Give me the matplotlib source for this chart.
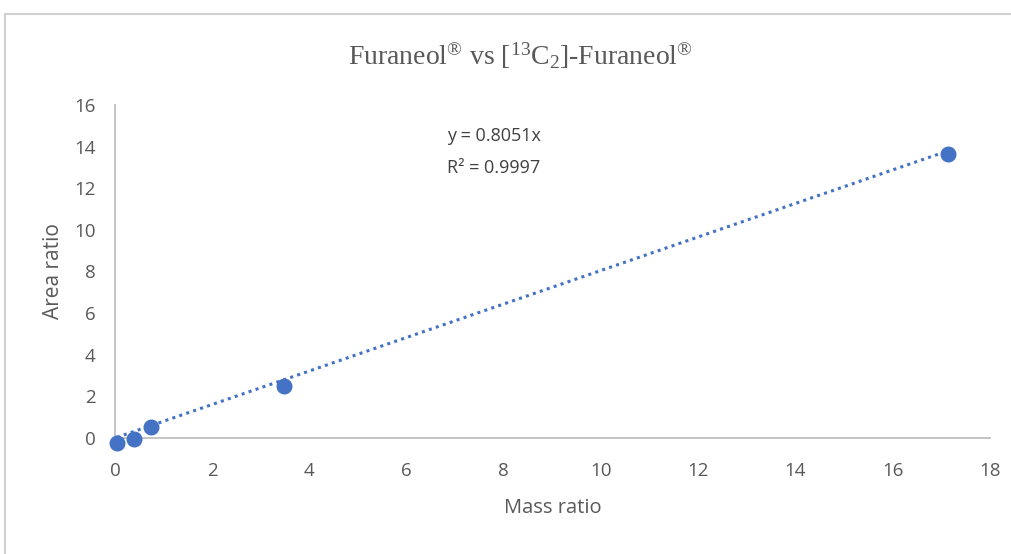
import matplotlib
matplotlib.use("Agg")
import matplotlib.pyplot as plt
from matplotlib.patches import Rectangle
import numpy as np

# Calibration data: mass ratio vs area ratio
mass_ratio = [0.04, 0.39, 0.74, 3.47, 17.14]
area_ratio = [-0.22, -0.03, 0.53, 2.50, 13.64]
slope = 0.8051
r_squared = 0.9997

x_ticks = [0, 2, 4, 6, 8, 10, 12, 14, 16, 18]
y_ticks = [0, 2, 4, 6, 8, 10, 12, 14, 16]

blue = "#4472C4"
gray_text = "#595959"

plt.rcParams["mathtext.fontset"] = "custom"
plt.rcParams["mathtext.rm"] = "Liberation Serif"
plt.rcParams["mathtext.it"] = "Liberation Serif:italic"

fig = plt.figure(figsize=(10.11, 5.54), dpi=100)
ax = fig.add_axes([0.1137, 0.2094, 0.8655, 0.6011])

# chart-area frame
fig.patches.append(Rectangle((5 / 1011, -0.1), 1.2, (554 - 14) / 554 + 0.1,
                             transform=fig.transFigure, fill=False,
                             edgecolor="#D0D0D0", linewidth=1.5))

# linear trendline through the origin
xt = np.array([min(mass_ratio), max(mass_ratio)])
ax.plot(xt, slope * xt, linestyle=(0, (1, 1.4)), linewidth=2.2, color=blue,
        clip_on=False, zorder=2)
ax.plot(mass_ratio, area_ratio, "o", color=blue, markersize=10.5, clip_on=False,
        zorder=3)

ax.set_xlim(0, 18)
ax.set_ylim(0, 16)
ax.set_xticks(x_ticks)
ax.set_yticks(y_ticks)

for s in ["top", "right"]:
    ax.spines[s].set_visible(False)
for s in ["left", "bottom"]:
    ax.spines[s].set_color("#BFBFBF")
    ax.spines[s].set_linewidth(1.3)

ax.tick_params(axis="both", length=0, labelsize=13.5, labelcolor=gray_text)
ax.tick_params(axis="x", pad=17)
ax.tick_params(axis="y", pad=14)
for lab in ax.get_xticklabels() + ax.get_yticklabels():
    lab.set_fontfamily("Open Sans")

ax.set_xlabel("Mass ratio", fontsize=14.5, color=gray_text, family="Open Sans",
              labelpad=13)
ax.set_ylabel("Area ratio", fontsize=15, color=gray_text, family="Open Sans",
              labelpad=7)

fig.text(0.515, 0.9, r"Furaneol$^{®}$ vs [$^{13}$C$_{2}$]-Furaneol$^{®}$",
         ha="center", va="center", fontsize=20, color=gray_text,
         family="Liberation Serif")

ax.text(6.83, 14.5, f"y = {slope}x", fontsize=13, color="#404040",
        family="Open Sans", va="center")
ax.text(6.83, 12.95, f"R² = {r_squared}", fontsize=13, color="#404040",
        family="Open Sans", va="center")

fig.savefig("out.png", dpi=100)
